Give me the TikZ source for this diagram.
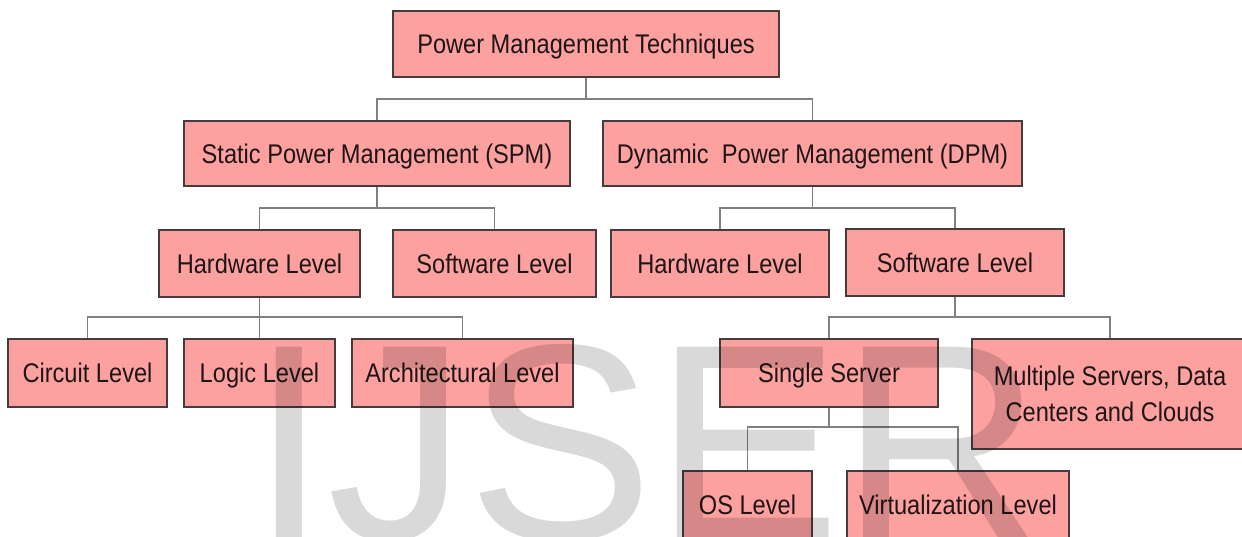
\documentclass[tikz,border=0pt]{standalone}
\usepackage{fontspec}
\newfontfamily\boxfont[FakeStretch=0.875]{Liberation Sans}
\newfontfamily\wmfont{Liberation Sans}
\definecolor{boxfill}{RGB}{252,160,160}
\definecolor{boxline}{RGB}{70,60,60}
\definecolor{connline}{RGB}{128,128,128}
\definecolor{txt}{RGB}{30,22,22}
\tikzset{
  pbox/.style={draw=boxline, fill=boxfill, line width=1.2pt, inner sep=0pt,
    text=txt, font={\boxfont\fontsize{27}{36}\selectfont}},
  oneline/.style={text height=19.3pt, text depth=0pt},
  conn/.style={draw=connline, line width=1.4pt},
}
\begin{document}
\begin{tikzpicture}[x=1pt,y=-1pt]
\path[use as bounding box] (0,0) rectangle (1242,536);
\clip (0,0) rectangle (1242,536);
\fill[white] (0,0) rectangle (1242,536);

% level 0
\node[pbox,oneline,minimum width=386pt,minimum height=66pt] (top) at (586,44) {Power Management Techniques};
% level 1
\node[pbox,oneline,minimum width=386pt,minimum height=65pt] (spm) at (377,153.5) {Static Power Management (SPM)};
\node[pbox,oneline,minimum width=419pt,minimum height=65pt] (dpm) at (812.5,153.5) {Dynamic\ \ Power Management (DPM)};
% level 2
\node[pbox,oneline,minimum width=201pt,minimum height=67pt] (hw1) at (259.5,263.5) {Hardware Level};
\node[pbox,oneline,minimum width=203pt,minimum height=67pt] (sw1) at (494.5,263.5) {Software Level};
\node[pbox,oneline,minimum width=218pt,minimum height=67pt] (hw2) at (720,263.5) {Hardware Level};
\node[pbox,oneline,minimum width=218pt,minimum height=67pt] (sw2) at (955,262.5) {Software Level};
% level 3
\node[pbox,oneline,minimum width=159pt,minimum height=68pt] (circ) at (87.5,373) {Circuit Level};
\node[pbox,oneline,minimum width=151pt,minimum height=68pt] (logic) at (259.5,373) {Logic Level};
\node[pbox,oneline,minimum width=221pt,minimum height=68pt] (arch) at (462.5,373) {Architectural Level};
\node[pbox,oneline,minimum width=218pt,minimum height=68pt] (ss) at (829,373) {Single Server};
\node[pbox,align=center,minimum width=276pt,minimum height=110pt] (mult) at (1110,394) {Multiple Servers, Data\\Centers and Clouds};
% level 4
\node[pbox,oneline,minimum width=129pt,minimum height=67pt] (os) at (747.5,504.5) {OS Level};
\node[pbox,oneline,minimum width=222pt,minimum height=67pt] (virt) at (958,504.5) {Virtualization Level};

% bus junctions
\coordinate (j0) at (586,99);
\coordinate (j1) at (377,208);
\coordinate (j2) at (812.5,208);
\coordinate (j3) at (259.5,317);
\coordinate (j4) at (955,317);
\coordinate (j5) at (829,427);

\draw[conn] (top.south) -- (j0);
\draw[conn] (spm.north) |- (j0) -| (dpm.north);
\draw[conn] (spm.south) -- (j1);
\draw[conn] (hw1.north) |- (j1) -| (sw1.north);
\draw[conn] (dpm.south) -- (j2);
\draw[conn] (hw2.north) |- (j2) -| (sw2.north);
\draw[conn] (hw1.south) -- (logic.north);
\draw[conn] (circ.north) |- (j3) -| (arch.north);
\draw[conn] (sw2.south) -- (j4);
\draw[conn] (ss.north) |- (j4) -| (mult.north);
\draw[conn] (ss.south) -- (j5);
\draw[conn] (os.north) |- (j5) -| (virt.north);

% watermark lettering
\node[anchor=base west, inner sep=0pt, text=black, text opacity=0.15,
  font={\wmfont\fontsize{279.5}{300}\selectfont}] (wm) at (250,539) {IJSER};
\end{tikzpicture}
\end{document}
